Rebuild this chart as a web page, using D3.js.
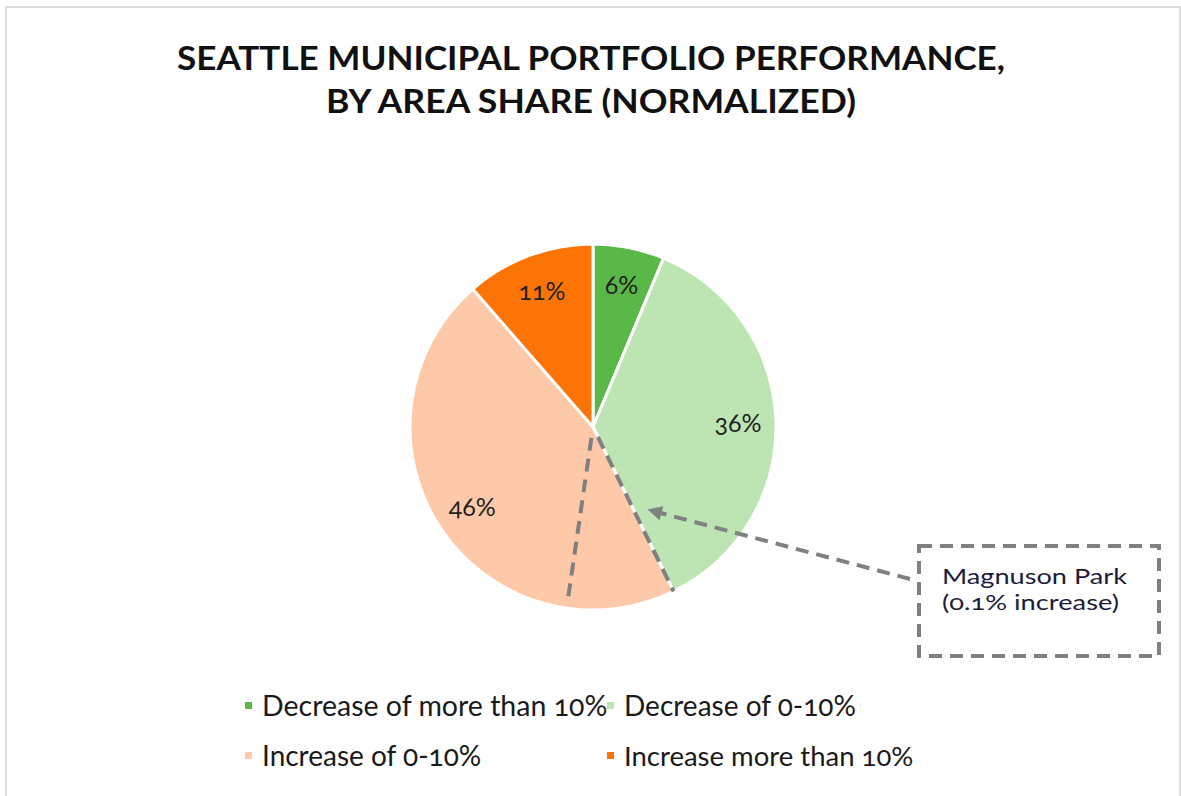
<!DOCTYPE html>
<html>
<head>
<meta charset="utf-8">
<script src="https://cdn.jsdelivr.net/npm/d3@7"></script>
<style>
  html, body { margin: 0; padding: 0; background: #fff; }
  svg { display: block; }
  text { font-family: Lato, "Open Sans", sans-serif; font-variant-numeric: oldstyle-nums; font-feature-settings: "onum" 1; }
</style>
</head>
<body>
<svg id="chart" width="1181" height="796"></svg>
<script>
// ---- data ----
const categories = ["Decrease of more than 10%", "Decrease of 0-10%", "Increase of 0-10%", "Increase more than 10%"];
const shares = [6.3, 36.4, 45.8, 11.4];
const colors = ["#5ab849", "#bde5b4", "#fdc9a9", "#fc7405"];
const titleLines = ["SEATTLE MUNICIPAL PORTFOLIO PERFORMANCE,", "BY AREA SHARE (NORMALIZED)"];
const calloutLines = ["Magnuson Park", "(0.1% increase)"];
const calloutWedgeEndShare = 52.3; // second dashed boundary (percent of circle)

// ---- layout ----
const cx = 593, cy = 427, R = 183;
const svg = d3.select("#chart");

// frame
svg.append("rect").attr("x", 6).attr("y", 7).attr("width", 1174).attr("height", 800)
  .attr("fill", "none").attr("stroke", "#dedede").attr("stroke-width", 2);

// title
const titleW = [828, 530];
const titleY = [70, 113];
titleLines.forEach((t, i) => {
  svg.append("text").attr("x", cx - 2).attr("y", titleY[i]).attr("text-anchor", "middle")
    .attr("font-size", 33).attr("font-weight", 700).attr("fill", "#111")
    .attr("textLength", titleW[i]).attr("lengthAdjust", "spacingAndGlyphs")
    .text(t);
});

// pie
const pie = d3.pie().sort(null).value(d => d);
const arcs = pie(shares);
const arc = d3.arc().innerRadius(0).outerRadius(R);
const labelArc = d3.arc().innerRadius(145).outerRadius(145);
const g = svg.append("g").attr("transform", `translate(${cx},${cy})`);
g.selectAll("path.slice").data(arcs).join("path").attr("class", "slice")
  .attr("d", arc).attr("fill", (d, i) => colors[i])
  .attr("stroke", "#fff").attr("stroke-width", 3).attr("stroke-linejoin", "round");

g.selectAll("text.lbl").data(arcs).join("text").attr("class", "lbl")
  .attr("transform", d => `translate(${labelArc.centroid(d)})`)
  .attr("text-anchor", "middle").attr("dy", "0.36em")
  .attr("font-size", 25).attr("fill", "#222")
  .text(d => Math.round(d.data) + "%");

// callout dashed wedge boundaries
const polar = (a, r) => [r * Math.sin(a), -r * Math.cos(a)];
const dashAngles = [arcs[1].endAngle, calloutWedgeEndShare / 100 * 2 * Math.PI];
const dashStyle = sel => sel.attr("stroke", "#808080").attr("stroke-width", 4)
  .attr("stroke-dasharray", "13 8").attr("fill", "none");
dashAngles.forEach((a, i) => {
  const p0 = polar(a, 11), p1 = polar(a, i === 0 ? R : R - 5);
  g.append("line").attr("x1", p0[0]).attr("y1", p0[1]).attr("x2", p1[0]).attr("y2", p1[1]).call(dashStyle);
});

// arrow
const defs = svg.append("defs");
defs.append("marker").attr("id", "ah").attr("viewBox", "0 0 10 10").attr("refX", 9).attr("refY", 5)
  .attr("markerWidth", 4.2).attr("markerHeight", 3.6).attr("orient", "auto").attr("markerUnits", "strokeWidth")
  .append("path").attr("d", "M0,0 L10,5 L0,10 Z").attr("fill", "#808080");
const tip = polar(146 * Math.PI / 180, 100);
svg.append("line").attr("x1", 910).attr("y1", 579).attr("x2", cx + tip[0]).attr("y2", cy + tip[1])
  .call(dashStyle).attr("marker-end", "url(#ah)");

// callout box
svg.append("rect").attr("x", 919).attr("y", 546).attr("width", 240).attr("height", 110).call(dashStyle);
const calloutW = [185, 177];
calloutLines.forEach((t, i) => {
  svg.append("text").attr("x", 942).attr("y", 584 + i * 26).attr("font-size", 21.5).attr("fill", "#1c1c3a")
    .attr("textLength", calloutW[i]).attr("lengthAdjust", "spacingAndGlyphs").text(t);
});

// legend
const legX = [245, 607], legY = [706, 756];
const legSize = [28.5, 28, 28, 27.5];
categories.forEach((c, i) => {
  const x = legX[i % 2], y = legY[Math.floor(i / 2)];
  svg.append("rect").attr("x", x).attr("y", y - 4).attr("width", 7).attr("height", 7).attr("fill", colors[i]);
  svg.append("text").attr("x", x + 17).attr("y", y).attr("dy", "0.36em")
    .attr("font-size", legSize[i]).attr("fill", "#1a1a1a").text(c);
});
</script>
</body>
</html>
